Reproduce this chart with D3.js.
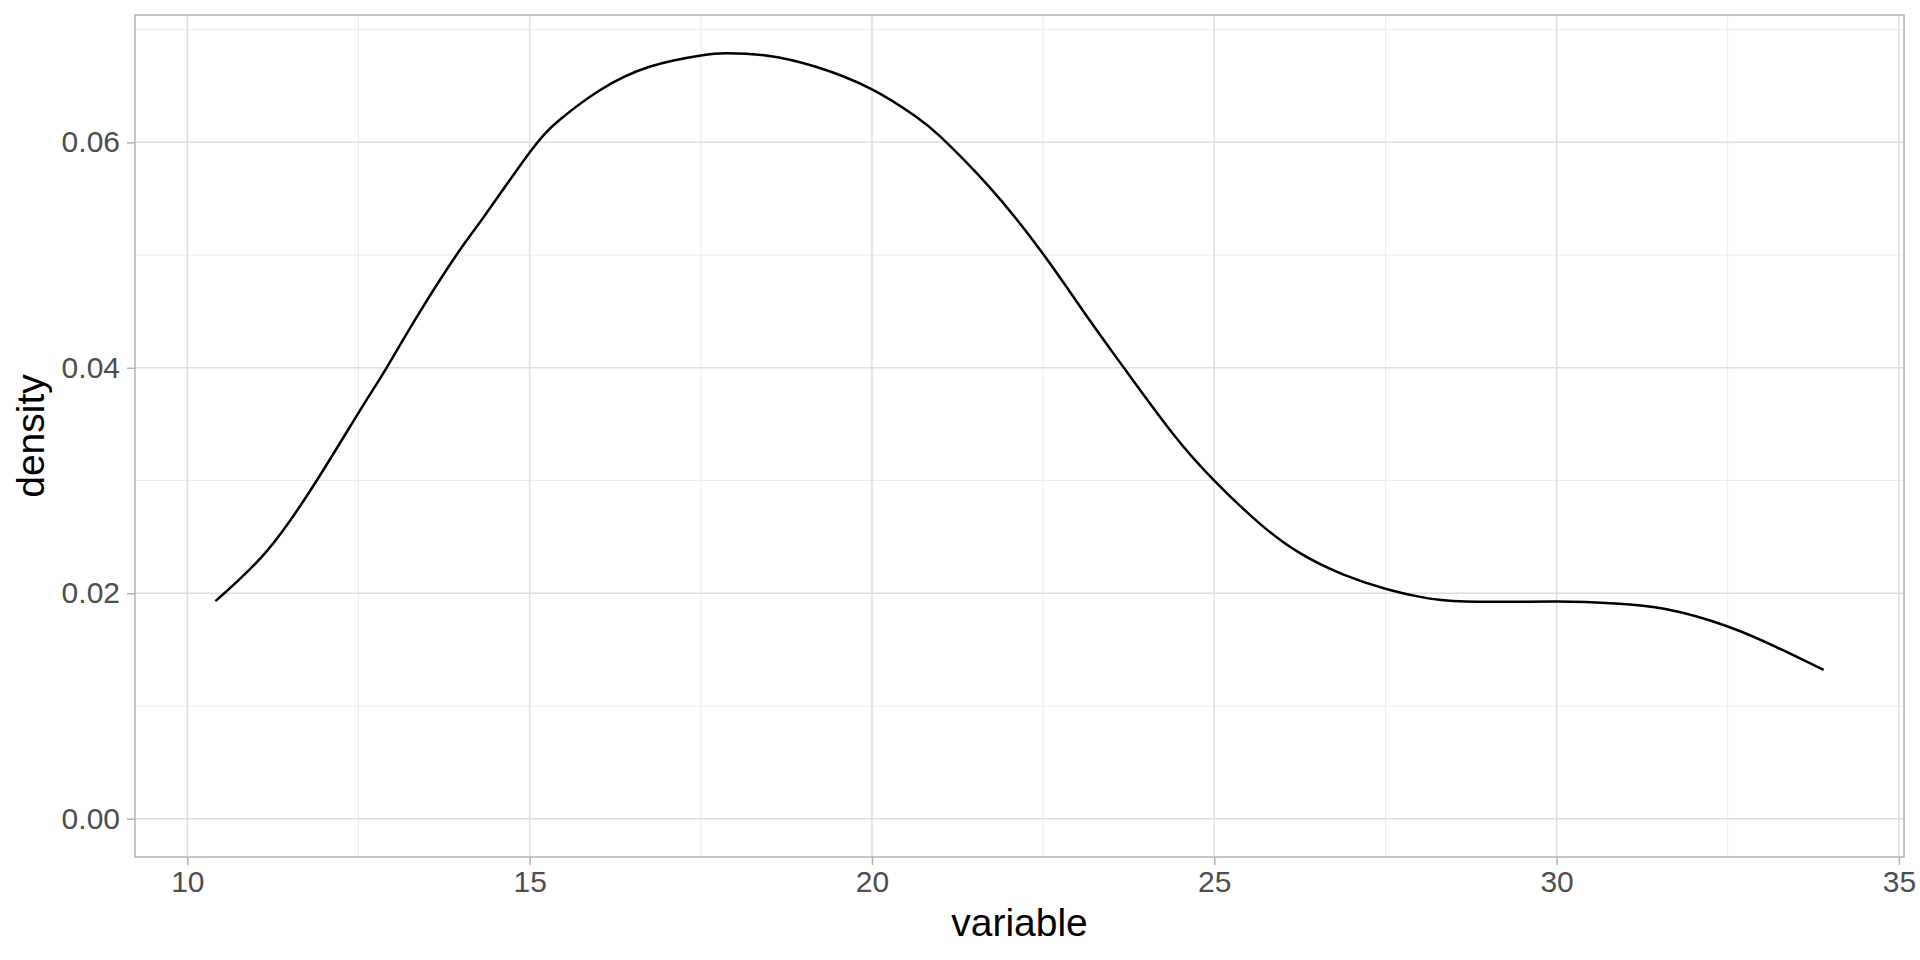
<!DOCTYPE html>
<html>
<head>
<meta charset="utf-8">
<script src="https://cdn.jsdelivr.net/npm/d3@7"></script>
<style>
  body { margin: 0; background: #ffffff; }
  svg { display: block; font-family: "Liberation Sans", Arial, sans-serif; }
</style>
</head>
<body>
<div id="chart"></div>
<script>
// density curve
const xValues = [10.41, 11.17, 11.89, 12.5, 12.91, 13.35, 13.93, 14.32, 15.0, 15.44, 16.02, 16.75, 17.5, 17.87, 18.45, 19.18, 20.0, 20.64, 21.0, 21.72, 22.5, 23.17, 23.68, 24.39, 25.0, 25.66, 26.24, 26.87, 27.5, 27.99, 28.67, 30.0, 30.86, 31.59, 32.5, 33.29, 33.9];
const densityValues = [0.0193, 0.0238, 0.0300, 0.0360, 0.0400, 0.0445, 0.0500, 0.0533, 0.0591, 0.0620, 0.0646, 0.0667, 0.0677, 0.0679, 0.0677, 0.0667, 0.0647, 0.0623, 0.0605, 0.0560, 0.0501, 0.0443, 0.0400, 0.0342, 0.0300, 0.0262, 0.0236, 0.0217, 0.0204, 0.0197, 0.01926, 0.01926, 0.0191, 0.0186, 0.01705, 0.0150, 0.0132];

const xTicks = [10, 15, 20, 25, 30, 35];
const xMinorTicks = [12.5, 17.5, 22.5, 27.5, 32.5];
const yTicks = [0, 0.02, 0.04, 0.06];
const yMinorTicks = [0.01, 0.03, 0.05, 0.07];

const xTitle = 'variable';
const yTitle = 'density';

const width = 1920;
const height = 960;
const margin = { left: 135, top: 15, right: 16, bottom: 103 };
const innerWidth = width - margin.left - margin.right;
const innerHeight = height - margin.top - margin.bottom;

const data = xValues.map((x, i) => ({ x: x, y: densityValues[i] }));

// ggplot style 5% expansion on both sides
const xExtent = d3.extent(xValues);
const xPad = (xExtent[1] - xExtent[0]) * 0.05;
const yMax = d3.max(densityValues);
const yPad = yMax * 0.05;

const xScale = d3.scaleLinear()
  .domain([xExtent[0] - xPad, xExtent[1] + xPad])
  .range([0, innerWidth]);

const yScale = d3.scaleLinear()
  .domain([-yPad, yMax + yPad])
  .range([innerHeight, 0]);

const svg = d3.select('#chart')
  .append('svg')
  .attr('width', width)
  .attr('height', height);

const g = svg.append('g')
  .attr('transform', `translate(${margin.left},${margin.top})`);

// minor grid first so major lines sit on top
g.append('g')
  .selectAll('line')
  .data(xMinorTicks)
  .join('line')
  .attr('x1', d => xScale(d))
  .attr('x2', d => xScale(d))
  .attr('y1', 0)
  .attr('y2', innerHeight)
  .attr('stroke', '#ececec')
  .attr('stroke-width', 1);

g.append('g')
  .selectAll('line')
  .data(yMinorTicks)
  .join('line')
  .attr('x1', 0)
  .attr('x2', innerWidth)
  .attr('y1', d => yScale(d))
  .attr('y2', d => yScale(d))
  .attr('stroke', '#ececec')
  .attr('stroke-width', 1);

g.append('g')
  .selectAll('line')
  .data(xTicks)
  .join('line')
  .attr('x1', d => xScale(d))
  .attr('x2', d => xScale(d))
  .attr('y1', 0)
  .attr('y2', innerHeight)
  .attr('stroke', '#dedede')
  .attr('stroke-width', 1.5);

g.append('g')
  .selectAll('line')
  .data(yTicks)
  .join('line')
  .attr('x1', 0)
  .attr('x2', innerWidth)
  .attr('y1', d => yScale(d))
  .attr('y2', d => yScale(d))
  .attr('stroke', '#dedede')
  .attr('stroke-width', 1.5);

// density line, natural spline keeps it smooth through the read points
const line = d3.line()
  .x(d => xScale(d.x))
  .y(d => yScale(d.y))
  .curve(d3.curveNatural);

g.append('path')
  .datum(data)
  .attr('d', line)
  .attr('fill', 'none')
  .attr('stroke', '#000000')
  .attr('stroke-width', 2.5)
  .attr('stroke-linejoin', 'round');

// panel border
g.append('rect')
  .attr('x', 0)
  .attr('y', 0)
  .attr('width', innerWidth)
  .attr('height', innerHeight)
  .attr('fill', 'none')
  .attr('stroke', '#b3b3b3')
  .attr('stroke-width', 1.5);

// axes
const xAxis = g.append('g')
  .attr('transform', `translate(0,${innerHeight})`)
  .call(d3.axisBottom(xScale).tickValues(xTicks).tickSize(8).tickPadding(6).tickFormat(d3.format('d')));

const yAxis = g.append('g')
  .call(d3.axisLeft(yScale).tickValues(yTicks).tickSize(8).tickPadding(7).tickFormat(d3.format('.2f')));

[xAxis, yAxis].forEach(axis => {
  axis.attr('font-size', 30).attr('font-family', '"Liberation Sans", Arial, sans-serif');
  axis.select('.domain').remove();
  axis.selectAll('.tick line').attr('stroke', '#b3b3b3').attr('stroke-width', 1.5);
  axis.selectAll('.tick text').attr('fill', '#4d4d4d');
});

//x axis title
svg.append('text')
  .attr('text-anchor', 'middle')
  .attr('x', margin.left + innerWidth / 2)
  .attr('y', 936)
  .attr('fill', '#000000')
  .attr('font-size', 39)
  .text(xTitle);

//y axis title
svg.append('text')
  .attr('text-anchor', 'middle')
  .attr('transform', `translate(44,${margin.top + innerHeight / 2}) rotate(-90)`)
  .attr('fill', '#000000')
  .attr('font-size', 39)
  .text(yTitle);
</script>
</body>
</html>
